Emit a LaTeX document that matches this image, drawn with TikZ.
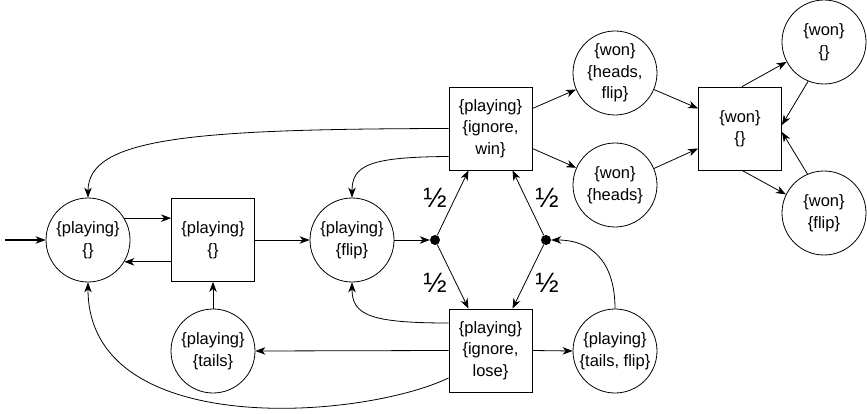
\documentclass[tikz,border=0pt]{standalone}
\usepackage{fontspec}
\setmainfont{Liberation Sans}
\usetikzlibrary{arrows.meta}
\begin{document}
\begin{tikzpicture}[x=1pt,y=-1pt,
  every node/.style={font=\fontsize{16.5}{21.5}\selectfont, align=center, inner sep=0pt},
  st/.style={circle, draw, minimum size=84pt, line width=0.8pt},
  bx/.style={rectangle, draw, minimum size=83pt, line width=0.8pt},
  dot/.style={circle, fill, minimum size=10pt},
  ar/.style={-{Stealth[length=10pt,width=7.5pt,inset=3pt]}, line width=0.8pt},
  lb/.style={font=\fontsize{28}{30}\selectfont}
]
\useasboundingbox (0,0) rectangle (867,414);
% nodes
\node[st] (c0) at (88,240) {\{playing\}\\\{\}};
\node[bx] (b0) at (213,240) {\{playing\}\\\{\}};
\node[st] (cf) at (352,240) {\{playing\}\\\{flip\}};
\node[dot] (d1) at (435,240) {};
\node[dot] (d2) at (546,240) {};
\node[bx] (win) at (490.5,128.5) {\{playing\}\\\{ignore,\\win\}};
\node[bx] (lose) at (490.5,350.5) {\{playing\}\\\{ignore,\\lose\}};
\node[st] (tails) at (213,351) {\{playing\}\\\{tails\}};
\node[st] (tf) at (615,351) {\{playing\}\\\{tails, flip\}};
\node[st] (whf) at (615,73) {\{won\}\\\{heads,\\flip\}};
\node[st] (wh) at (615,185) {\{won\}\\\{heads\}};
\node[bx] (wbox) at (740,128.5) {\{won\}\\\{\}};
\node[st] (w0) at (824,42) {\{won\}\\\{\}};
\node[st] (wf) at (824,213) {\{won\}\\\{flip\}};
% labels
\node[lb] (h1) at (435,198) {½};
\node[lb] (h2) at (547,198) {½};
\node[lb] (h3) at (435,283) {½};
\node[lb] (h4) at (547,283) {½};
% initial arrow
\coordinate (start) at (5,240);
\draw[ar, line width=1.6pt] (start) -- (c0.west);
% left part
\draw[ar] (c0.31.6) -- (b0.west |- c0.31.6);
\draw[ar] (b0.west |- c0.-31.6) -- (c0.-31.6);
\draw[ar] (b0.east) -- (cf.west);
\draw[ar] (cf.east) -- (d1.west);
\draw[ar] (tails.north) -- (b0.south);
% diamond
\draw[ar] (d1) -- ([xshift=-22pt]win.south);
\draw[ar] (d1) -- ([xshift=-22pt]lose.north);
\draw[ar] (d2) -- ([xshift=22pt]win.south);
\draw[ar] (d2) -- ([xshift=22pt]lose.north);
% curves
\draw[ar] (win.west) .. controls (190,129) and (88,138) .. (c0.north);
\draw[ar] ([yshift=-28pt]win.west) .. controls (370,157) and (352,165) .. (cf.north);
\draw[ar] ([yshift=27.5pt]lose.west) .. controls (370,323) and (352,315) .. (cf.south);
\draw[ar] (lose.west) -- (tails.east);
\draw[ar] ([yshift=-27.5pt]lose.west) .. controls (360,420) and (88,440) .. (c0.south);
\draw[ar] (lose.east) -- (tf.west);
\draw[ar] (tf.north) .. controls (615,260) and (590,240) .. (d2.east);
% won part
\draw[ar] ([yshift=20pt]win.east) -- (whf.203);
\draw[ar] ([yshift=-20pt]win.east) -- (wh.156.5);
\draw[ar] (whf.-23) -- ([yshift=20pt]wbox.west);
\draw[ar] (wh.23) -- ([yshift=-20pt]wbox.west);
\draw[ar] ([xshift=2pt]wbox.north) -- (w0.208);
\draw[ar] (w0.248) -- ([yshift=3.5pt]wbox.east);
\draw[ar] (wf.113) -- ([yshift=-3.5pt]wbox.east);
\draw[ar] ([xshift=2pt]wbox.south) -- (wf.154);
\end{tikzpicture}
\end{document}
